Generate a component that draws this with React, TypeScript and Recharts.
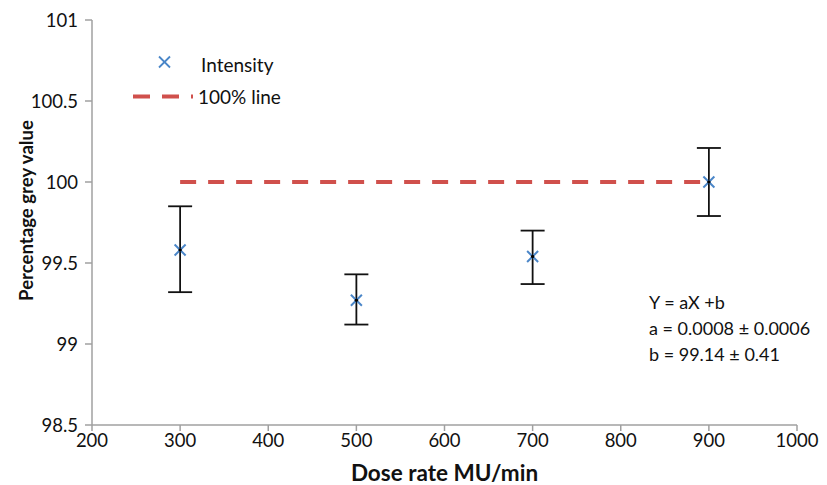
import React from 'react';
import { ComposedChart, Scatter, XAxis, YAxis, ErrorBar } from 'recharts';

const doseRates = [300, 500, 700, 900];
const intensity = [99.58, 99.27, 99.54, 100.0];
const errLow = [0.26, 0.15, 0.17, 0.21];
const errHigh = [0.27, 0.16, 0.16, 0.21];
const lineX = [300, 900];
const lineY = [100, 100];
const xTicks = [200, 300, 400, 500, 600, 700, 800, 900, 1000];
const yTicks = [98.5, 99, 99.5, 100, 100.5, 101];
const annotation = ['Y = aX +b', 'a = 0.0008 \u00b1 0.0006', 'b = 99.14 \u00b1 0.41'];

const pointData = doseRates.map((x, i) => ({ x, y: intensity[i], err: [errLow[i], errHigh[i]] }));
const refData = lineX.map((x, i) => ({ x, y: lineY[i] }));

const FONT = 'Lato, "Open Sans", sans-serif';
const BLUE = '#4a86c8';
const RED = '#d0504c';
const AXIS = '#a0a0a0';

const Cross = (props: any) => {
  const { cx, cy } = props;
  if (cx == null || cy == null) return null;
  const s = 5.5;
  return (
    <g>
      <line x1={cx - s} y1={cy - s} x2={cx + s} y2={cy + s} stroke={BLUE} strokeWidth={2} />
      <line x1={cx - s} y1={cy + s} x2={cx + s} y2={cy - s} stroke={BLUE} strokeWidth={2} />
      <circle cx={cx} cy={cy} r={1.7} fill="#000" />
    </g>
  );
};

export default function App() {
  return (
    <div style={{ position: 'absolute', left: 0, top: 0, width: 827, height: 485, background: '#fff', fontFamily: FONT }}>
      <ComposedChart width={827} height={485} margin={{ top: 20, right: 30, bottom: 4, left: 0 }}>
        <XAxis
          type="number"
          dataKey="x"
          domain={[200, 1000]}
          ticks={xTicks}
          allowDataOverflow
          height={56}
          stroke={AXIS}
          strokeWidth={1.5}
          tickSize={6}
          tick={{ fill: '#111', fontSize: 18.5, fontFamily: FONT }}
          tickMargin={3}
          label={{ value: 'Dose rate MU/min', position: 'insideBottom', offset: 0, fill: '#111', fontSize: 22.5, fontWeight: 700, fontFamily: FONT }}
        />
        <YAxis
          type="number"
          dataKey="y"
          domain={[98.5, 101]}
          ticks={yTicks}
          allowDataOverflow
          width={92}
          stroke={AXIS}
          strokeWidth={1.5}
          tickSize={7}
          tick={{ fill: '#111', fontSize: 18.5, fontFamily: FONT }}
          tickMargin={7}
          label={{ value: 'Percentage grey value', angle: -90, position: 'insideLeft', offset: 26, dy: -12, style: { textAnchor: 'middle' }, fill: '#111', fontSize: 18.6, fontWeight: 700, fontFamily: FONT }}
        />
        <Scatter
          data={refData}
          isAnimationActive={false}
          line={{ stroke: RED, strokeWidth: 4, strokeDasharray: '16 12' }}
          shape={() => null}
        />
        <Scatter data={pointData} isAnimationActive={false} shape={Cross}>
          <ErrorBar dataKey="err" direction="y" width={12} stroke="#111" strokeWidth={1.8} isAnimationActive={false} />
        </Scatter>
      </ComposedChart>
      <svg width={827} height={485} style={{ position: 'absolute', left: 0, top: 0, pointerEvents: 'none' }}>
        <g>
          <line x1={159} y1={56.5} x2={170} y2={67.5} stroke={BLUE} strokeWidth={1.8} />
          <line x1={159} y1={67.5} x2={170} y2={56.5} stroke={BLUE} strokeWidth={1.8} />
          <text x={201} y={72} fontSize={19} fill="#111" fontFamily={FONT}>Intensity</text>
          <line x1={133} y1={96.5} x2={193} y2={96.5} stroke={RED} strokeWidth={4} strokeDasharray="17 12" />
          <text x={198} y={104} fontSize={19} fill="#111" fontFamily={FONT}>100% line</text>
        </g>
        <g>
          {annotation.map((t, i) => (
            <text key={i} x={649} y={309 + i * 26} fontSize={18} fill="#111" fontFamily={FONT}>{t}</text>
          ))}
        </g>
      </svg>
    </div>
  );
}
